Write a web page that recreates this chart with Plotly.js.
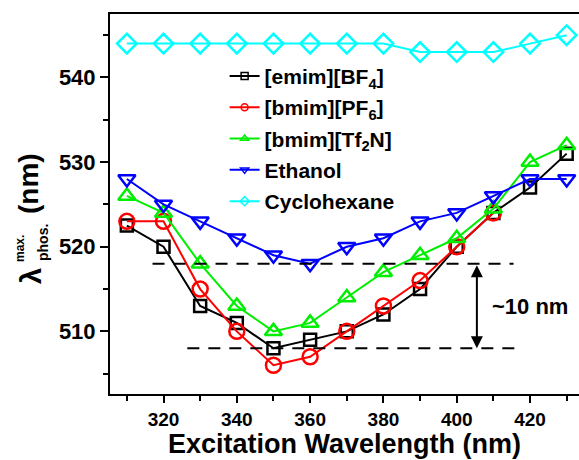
<!DOCTYPE html>
<html>
<head>
<meta charset="utf-8">
<script src="https://cdn.plot.ly/plotly-3.0.1.min.js"></script>
<style>
html, body { margin: 0; padding: 0; overflow: hidden; background: #fff; }
#chart { width: 600px; height: 460px; }
</style>
</head>
<body>
<div id="chart"></div>
<script>
// Excitation wavelengths (nm)
const wavelengths = [310, 320, 330, 340, 350, 360, 370, 380, 390, 400, 410, 420, 430];
const wavelengthsPF6 = [310, 320, 330, 340, 350, 360, 370, 380, 390, 400, 410];

// Phosphorescence maximum (nm)
const emimBF4 = [522.5, 520, 513, 511, 508, 509, 510, 512, 515, 520, 524, 527, 531];
const bmimPF6 = [523, 523, 515, 510, 506, 507, 510, 513, 516, 520, 524];
const bmimTf2N = [526, 524, 518, 513, 510, 511, 514, 517, 519, 521, 524.5, 530, 532];
const ethanol = [528, 525, 523, 521, 519, 518, 520, 521, 523, 524, 526, 528, 528];
const cyclohexane = [544, 544, 544, 544, 544, 544, 544, 544, 543, 543, 543, 544, 545];

const seriesNames = ['[emim][BF<sub>4</sub>]', '[bmim][PF<sub>6</sub>]', '[bmim][Tf<sub>2</sub>N]', 'Ethanol', 'Cyclohexane'];
const seriesColors = ['#000000', '#ff0000', '#00ee00', '#0000ff', '#00ffff'];
const seriesSymbols = ['square-open', 'circle-open', 'triangle-up-open', 'triangle-down-open', 'diamond-open'];
const seriesSizes = [12, 15, 15, 15, 15];
const seriesX = [wavelengths, wavelengthsPF6, wavelengths, wavelengths, wavelengths];
const seriesY = [emimBF4, bmimPF6, bmimTf2N, ethanol, cyclohexane];

// reference levels (dashed guides) and the ~10 nm gap
const upperLevel = 518, lowerLevel = 508;

const FONT = 'Liberation Sans, Arial, sans-serif';
const traces = [];
for (let i = 0; i < seriesNames.length; i++) {
  traces.push({
    x: seriesX[i], y: seriesY[i], type: 'scatter', mode: 'lines+markers',
    showlegend: false,
    line: { color: seriesColors[i], width: 2 },
    marker: { symbol: seriesSymbols[i], size: seriesSizes[i], color: seriesColors[i], line: { width: 2.5, color: seriesColors[i] } }
  });
}
// legend entries with small markers
for (let i = 0; i < seriesNames.length; i++) {
  traces.push({
    x: [null], y: [null], type: 'scatter', mode: 'lines+markers',
    name: seriesNames[i], legendgroup: 'g' + i, showlegend: true,
    line: { color: seriesColors[i], width: 2 },
    marker: { symbol: seriesSymbols[i], size: 7, color: seriesColors[i], line: { width: 1.5, color: seriesColors[i] } }
  });
}

const PL = 110, PW = 475, PT = 14, PB = 394, PH = PB - PT;
function ann(px, py, text, size, angle) {
  return { x: (px - PL) / PW, y: (PB - py) / PH, xref: 'paper', yref: 'paper', text: text,
    textangle: angle || 0, showarrow: false, xanchor: 'center', yanchor: 'middle', borderpad: 0,
    font: { family: FONT, size: size, weight: 'bold', color: '#000' } };
}

const layout = {
  width: 600, height: 460,
  margin: { l: PL, r: 600 - PL - PW, t: PT, b: 460 - PB },
  paper_bgcolor: '#fff', plot_bgcolor: '#fff',
  font: { family: FONT, size: 20, color: '#000', weight: 'bold' },
  showlegend: true,
  legend: {
    x: 0.2413, y: 0.89, xanchor: 'left', yanchor: 'top',
    bgcolor: 'rgba(0,0,0,0)', borderwidth: 0,
    font: { family: FONT, size: 21, color: '#000', weight: 'bold' },
    traceorder: 'grouped', tracegroupgap: 1
  },
  xaxis: {
    range: [305.4, 435], dtick: 20, tick0: 300,
    ticks: 'outside', ticklen: 7, tickwidth: 2, tickcolor: '#000',
    minor: { dtick: 10, ticks: 'outside', ticklen: 5, tickwidth: 2, tickcolor: '#000' },
    showline: true, linewidth: 2, linecolor: '#000', mirror: true,
    showgrid: false, zeroline: false,
    tickfont: { family: FONT, size: 19, weight: 'bold' }
  },
  yaxis: {
    range: [502.6, 547.5], dtick: 10, tick0: 500,
    ticks: 'outside', ticklen: 8, tickwidth: 2, tickcolor: '#000',
    minor: { dtick: 5, ticks: 'outside', ticklen: 5, tickwidth: 2, tickcolor: '#000' },
    showline: true, linewidth: 2, linecolor: '#000', mirror: true,
    showgrid: false, zeroline: false,
    tickfont: { family: FONT, size: 22, weight: 'bold' }
  },
  shapes: [
    { type: 'line', xref: 'x', yref: 'y', x0: 317, x1: 415.5, y0: upperLevel, y1: upperLevel, line: { color: '#000', width: 2, dash: '12px,9px' } },
    { type: 'line', xref: 'x', yref: 'y', x0: 326.5, x1: 417, y0: lowerLevel, y1: lowerLevel, line: { color: '#000', width: 2, dash: '12px,9px' } }
  ],
  annotations: [
    { x: 405.5, y: lowerLevel, ax: 405.5, ay: upperLevel, xref: 'x', yref: 'y', axref: 'x', ayref: 'y',
      text: '', showarrow: true, arrowhead: 2, startarrowhead: 2, arrowside: 'end+start', arrowsize: 1.2, arrowwidth: 2, arrowcolor: '#000' },
    { x: 419.9, y: 512.9, xref: 'x', yref: 'y', text: '~10 nm', showarrow: false, xanchor: 'center', yanchor: 'middle',
      font: { family: FONT, size: 22, weight: 'bold', color: '#000' } },
    // x-axis title
    ann(344, 443.5, 'Excitation Wavelength (nm)', 27, 0),
    // y-axis title pieces
    ann(29, 184, '(nm)', 28, -90),
    ann(31, 276, 'λ', 29, -90),
    ann(20, 249, 'max.', 12, -90),
    ann(43, 243, 'phos.', 14, -90)
  ]
};

Plotly.newPlot('chart', traces, layout, { displayModeBar: false, staticPlot: true });
</script>
</body>
</html>
